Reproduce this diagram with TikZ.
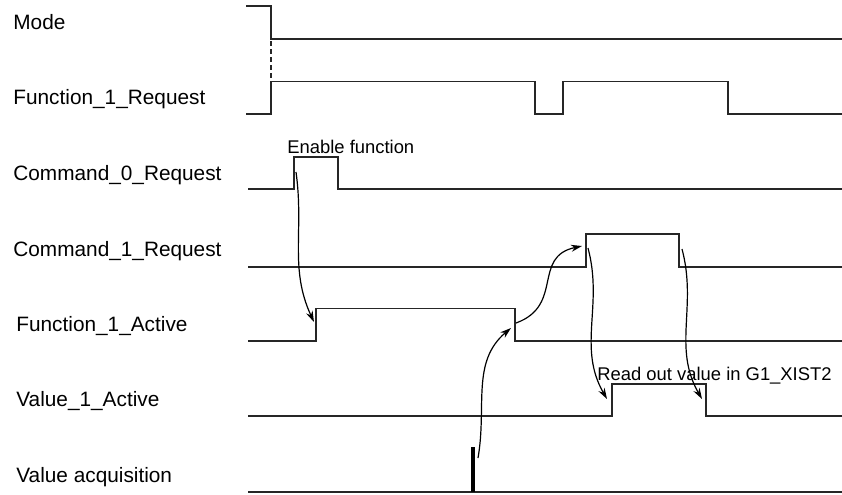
\documentclass[tikz,border=0pt]{standalone}
\usepackage{fontspec}
\setmainfont{Liberation Sans}
\usepackage{tikz}
\usetikzlibrary{arrows.meta, positioning, calc}

\begin{document}
\begin{tikzpicture}[
  x=0.5pt, y=-0.5pt,
  signal/.style={line width=0.7pt, color=black!85},
  siglabel/.style={anchor=base west, inner sep=0pt, font=\fontsize{10.4}{12}\selectfont},
  note/.style={anchor=base west, inner sep=0pt, font=\fontsize{9.2}{11}\selectfont},
  cause/.style={-{Stealth[length=5.5pt, width=3.5pt]}, line width=0.6pt},
  pulse/.style={line width=1.6pt}
]
\useasboundingbox (0,0) rectangle (842,494);

% signal names
\foreach \n/\x/\y/\t in {mode/13/29.5/Mode, freq/13/104.5/Function\_1\_Request,
    cmdzero/13/180.5/Command\_0\_Request, cmdone/13/256.5/Command\_1\_Request,
    fact/16/331.5/Function\_1\_Active, vact/16/406.5/Value\_1\_Active,
    acquis/16/482.5/Value acquisition}
  \node[siglabel] (\n) at (\x,\y) {\t};

% waveforms
\draw[signal] (246,6) -- (271,6) -- (271,39) -- (842,39);
\draw[signal, dash pattern=on 2.5pt off 1.5pt] (271,41) -- (271,80);
\draw[signal] (246,114) -- (271,114) -- (271,81.5) -- (535,81.5) -- (535,114)
  -- (563,114) -- (563,81.5) -- (728,81.5) -- (728,114) -- (842,114);
\draw[signal] (248,189) -- (294,189) -- (294,157) -- (338,157) -- (338,189) -- (842,189);
\draw[signal] (248,267) -- (586,267) -- (586,234) -- (679,234) -- (679,267) -- (842,267);
\draw[signal] (248,341) -- (316,341) -- (316,308.5) -- (515,308.5) -- (515,341) -- (842,341);
\draw[signal] (248,416) -- (612,416) -- (612,384) -- (706,384) -- (706,416) -- (842,416);
\draw[signal] (248,492) -- (842,492);
\draw[pulse] (473,447) -- (473,492);

\node[note] (enable) at (287,153) {Enable function};
\node[note] (readout) at (597,380) {Read out value in G1\_XIST2};

% edge points
\coordinate (c0up) at (296,172);
\coordinate (f1up) at (314,322);
\coordinate (acq) at (478,458);
\coordinate (f1dn) at (511,328);
\coordinate (f1dnr) at (516,323);
\coordinate (c1upl) at (582,246);
\coordinate (c1up) at (588,248);
\coordinate (v1up) at (607,399);
\coordinate (c1dn) at (682,249);
\coordinate (v1dn) at (702,399);

\draw[cause] (c0up) to[out=-82, in=115] (f1up);
\draw[cause] (acq) to[out=80, in=-140] (f1dn);
\draw[cause] (f1dnr) to[out=20, in=192, looseness=1.3] (c1upl);
\draw[cause] (c1up) to[out=-75, in=120] (v1up);
\draw[cause] (c1dn) to[out=-75, in=120] (v1dn);

\end{tikzpicture}
\end{document}
